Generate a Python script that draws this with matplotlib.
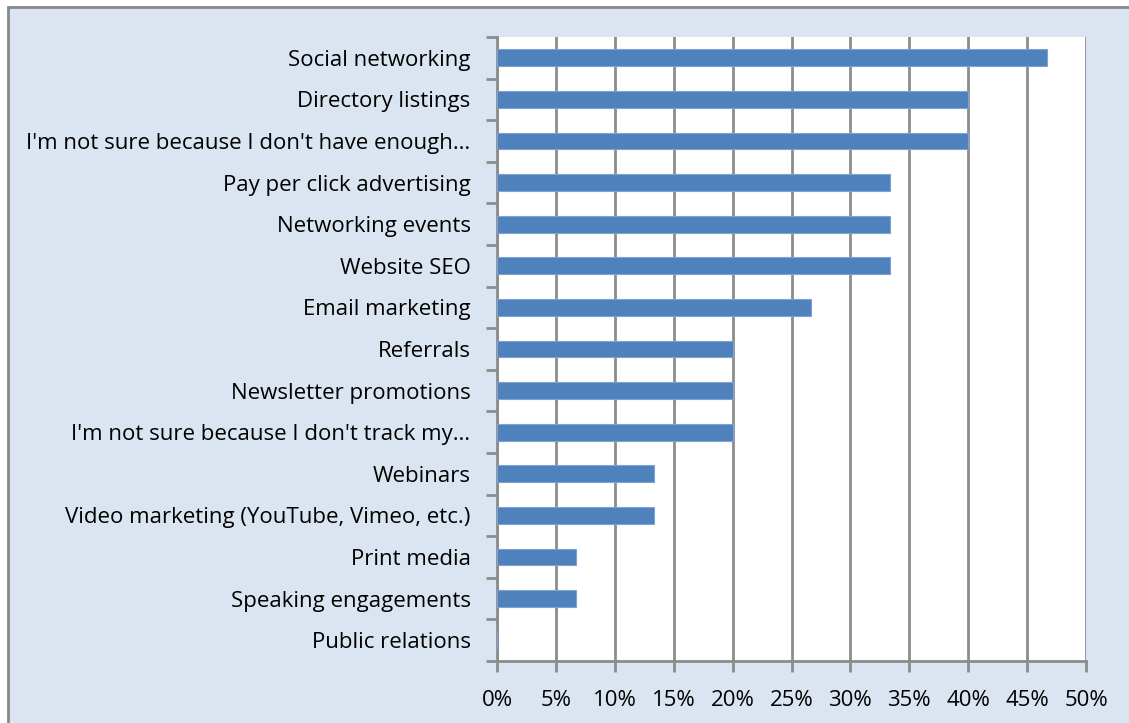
import matplotlib.pyplot as plt
from matplotlib.patches import Rectangle
from matplotlib.ticker import FuncFormatter, FixedLocator

categories = [
    "Social networking",
    "Directory listings",
    "I'm not sure because I don't have enough\u2026",
    "Pay per click advertising",
    "Networking events",
    "Website SEO",
    "Email marketing",
    "Referrals",
    "Newsletter promotions",
    "I'm not sure because I don't track my\u2026",
    "Webinars",
    "Video marketing (YouTube, Vimeo, etc.)",
    "Print media",
    "Speaking engagements",
    "Public relations",
]
values = [46.67, 40.0, 40.0, 33.33, 33.33, 33.33, 26.67, 20.0, 20.0, 20.0,
          13.33, 13.33, 6.67, 6.67, 0.0]
xticks = [0, 5, 10, 15, 20, 25, 30, 35, 40, 45, 50]

bg = "#DBE5F1"
grid_col = "#8C8C8C"
bar_col = "#4F81BD"

plt.rcParams['font.family'] = ['Open Sans', 'DejaVu Sans']

fig = plt.figure(figsize=(11.29, 7.23), dpi=100)
fig.patch.set_facecolor("white")
# chart area frame (only left/top edges fall inside the image)
fig.patches.append(Rectangle((8 / 1129, -0.05), 1.2, 1 - 7 / 723 + 0.05,
                             transform=fig.transFigure, facecolor=bg,
                             edgecolor="#888888", linewidth=2, zorder=-5))

ax = fig.add_axes([497 / 1129, 1 - 661 / 723, (1086 - 497) / 1129, (661 - 37) / 723])
ax.set_facecolor("white")

n = len(categories)
pos = list(range(n))
ax.barh(pos, values, height=0.4, color=bar_col, edgecolor="#7FA3D0",
        linewidth=0.8, zorder=3)
ax.set_ylim(n - 0.5, -0.5)
ax.set_xlim(0, 50)

ax.xaxis.set_major_locator(FixedLocator(xticks))
ax.xaxis.set_major_formatter(FuncFormatter(lambda v, p: f"{v:.0f}%"))
ax.grid(axis="x", color=grid_col, linewidth=2, zorder=1)

ax.set_yticks(pos)
ax.set_yticklabels(categories)
ax.set_yticks([i - 0.5 for i in range(n + 1)], minor=True)
ax.tick_params(axis="y", which="major", length=0, pad=19, labelsize=16)
ax.tick_params(axis="y", which="minor", length=8, width=2, color=grid_col)
ax.tick_params(axis="x", length=8, width=2, color=grid_col, labelsize=16, pad=13)

for s in ["top", "right"]:
    ax.spines[s].set_visible(False)
for s in ["left", "bottom"]:
    ax.spines[s].set_color(grid_col)
    ax.spines[s].set_linewidth(2)

fig.savefig("out.png", dpi=100, facecolor=fig.get_facecolor())
